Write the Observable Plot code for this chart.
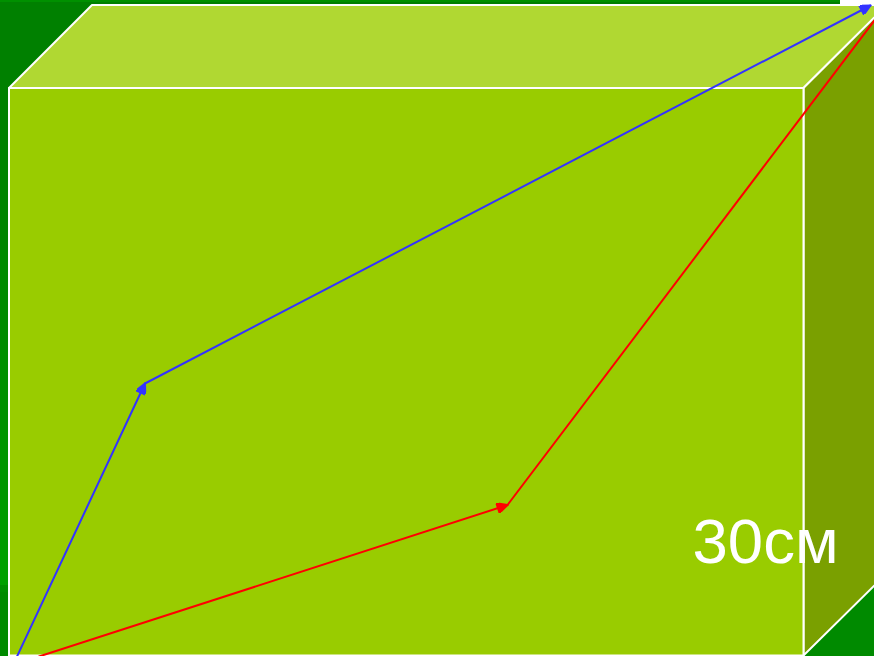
<!DOCTYPE html>
<html>
<head>
<meta charset="utf-8">
<script src="https://cdn.jsdelivr.net/npm/d3@7"></script>
<script src="https://cdn.jsdelivr.net/npm/@observablehq/plot@0.6"></script>
<style>html,body{margin:0;padding:0;background:#fff;overflow:hidden}svg{display:block}</style>
</head>
<body>
<div id="chart"></div>
<script>
const backdrop = [
  {x1:0,x2:840,y1:0,y2:2,c:"#009000"},
  {x1:0,x2:840,y1:2,y2:6,c:"#008000"},
  {x1:0,x2:874,y1:585,y2:592,c:"#008f00"},
  {x1:0,x2:874,y1:592,y2:656,c:"#008a00"}
];
const bandEdges = [6,150,250,350,430,500,550,585];
const bandColors = ["#008000","#008400","#008a00","#009000","#009600","#009b00","#00a000"];
const frontFace = [[8.5,87.5],[803,87.5],[803,655],[8.5,655]];
const topFace = [[8.5,87.5],[91.5,4.5],[880,4.5],[880,11],[803,87.5]];
const sideFace = [[803,87.5],[880,11],[880,579],[803,655]];
const blueSegments = [[[16.5,656],[144.5,383]],[[144.5,383],[870,5]]];
const redSegments = [[[38.5,656],[507,504.5]],[[507,504.5],[886,4]]];
const label = [{x:692,y:562.5,text:"30см"}];

const toRows = pts => pts.map(([x,y]) => ({x,y}));
const closed = pts => toRows([...pts, pts[0]]);
const bands = bandColors.map((c,i) => ({x1:0,x2:874,y1:bandEdges[i],y2:bandEdges[i+1],c}));

function head(color){
  const ns = "http://www.w3.org/2000/svg";
  const m = document.createElementNS(ns,"marker");
  m.setAttribute("viewBox","-10 -5 10 10");
  m.setAttribute("markerWidth",14);
  m.setAttribute("markerHeight",10);
  m.setAttribute("markerUnits","userSpaceOnUse");
  m.setAttribute("orient","auto");
  const p = document.createElementNS(ns,"path");
  p.setAttribute("d","M-10,-5L0,0L-10,5Z");
  p.setAttribute("fill",color);
  m.appendChild(p);
  return m;
}
const seg = (s,stroke) => Plot.line(toRows(s),{x:"x",y:"y",stroke,strokeWidth:2,markerEnd:head,clip:true});

const chart = Plot.plot({
  width:874,height:656,margin:0,
  x:{domain:[0,874],axis:null},
  y:{domain:[656,0],axis:null},
  marks:[
    Plot.rect(bands,{x1:"x1",x2:"x2",y1:"y1",y2:"y2",fill:"c",shapeRendering:"crispEdges"}),
    Plot.rect(backdrop,{x1:"x1",x2:"x2",y1:"y1",y2:"y2",fill:"c",shapeRendering:"crispEdges"}),
    Plot.line(closed(topFace),{x:"x",y:"y",fill:"#b0d832",stroke:"#fff",strokeWidth:2,clip:true}),
    Plot.line(closed(sideFace),{x:"x",y:"y",fill:"#7aa000",stroke:"#fff",strokeWidth:2,clip:true}),
    Plot.line(closed(frontFace),{x:"x",y:"y",fill:"#99cc00",stroke:"#fff",strokeWidth:2,clip:true}),
    ...blueSegments.map(s=>seg(s,"#3333ff")),
    ...redSegments.map(s=>seg(s,"#ff0000")),
    Plot.text(label,{x:"x",y:"y",text:"text",fill:"#fff",fontSize:63.5,fontFamily:"Liberation Sans",textAnchor:"start",lineAnchor:"bottom"})
  ]
});
document.getElementById("chart").append(chart);
</script>
</body>
</html>
